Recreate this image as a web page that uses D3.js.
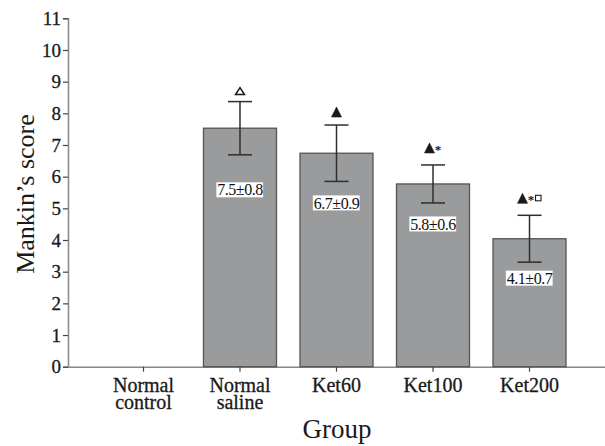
<!DOCTYPE html>
<html>
<head>
<meta charset="utf-8">
<script src="https://cdn.jsdelivr.net/npm/d3@7/dist/d3.min.js"></script>
<style>
  body { margin: 0; background: #fff; }
  svg { display: block; }
  svg text { font-family: "Liberation Serif", "Times New Roman", serif; }
</style>
</head>
<body>
<div id="chart"></div>
<script>
// groups and values
var groups = ["Normal control", "Normal saline", "Ket60", "Ket100", "Ket200"];
var groupLines = [["Normal", "control"], ["Normal", "saline"], ["Ket60"], ["Ket100"], ["Ket200"]];
var means = [0, 7.53, 6.74, 5.77, 4.04];
var errors = [0, 0.84, 0.89, 0.6, 0.74];
var valueLabels = ["", "7.5\u00b10.8", "6.7\u00b10.9", "5.8\u00b10.6", "4.1\u00b10.7"];
// significance marks: D = open triangle, T = filled triangle, * = asterisk, S = open square
var marks = ["", "D", "T", "T*", "T*S"];
var yTicks = [0, 1, 2, 3, 4, 5, 6, 7, 8, 9, 10, 11];

var width = 605, height = 446;
var plotLeft = 68, plotBase = 366.7, plotTop = 18.3;
var serif = "Liberation Serif, Times New Roman, serif";

var svg = d3.select("#chart").append("svg")
    .attr("width", width)
    .attr("height", height)
    .attr("font-family", serif);

var x = d3.scaleBand()
    .domain(groups)
    .range([plotLeft, width])
    .paddingInner(0.2435)
    .paddingOuter(0.404);

var y = d3.scaleLinear()
    .domain([0, 11])
    .range([plotBase, plotTop]);

// y axis
var yAxis = svg.append("g")
    .attr("transform", "translate(" + plotLeft + ",0)")
    .call(d3.axisLeft(y).tickValues(yTicks).tickSize(5).tickPadding(2).tickFormat(d3.format("d")));
yAxis.attr("font-family", serif).attr("font-size", 19);
yAxis.select(".domain").attr("stroke", "#8c8c8c").attr("stroke-width", 1.6);
yAxis.selectAll(".tick line").attr("stroke", "#444").attr("stroke-width", 1.2);
yAxis.selectAll(".tick text")
    .attr("fill", "#1a1a1a")
    .attr("stroke", "#1a1a1a")
    .attr("stroke-width", 0.3);

// x axis baseline + ticks (drawn under the bars)
var xAxis = svg.append("g")
    .attr("transform", "translate(0," + plotBase + ")")
    .call(d3.axisBottom(x).tickSize(5).tickSizeOuter(0).tickFormat(""));
xAxis.select(".domain").attr("stroke", "#888").attr("stroke-width", 1.4);
xAxis.selectAll(".tick line").attr("stroke", "#444").attr("stroke-width", 1.2);

// bars
svg.selectAll("rect.bar")
    .data(groups)
    .enter()
    .append("rect")
    .attr("class", "bar")
    .attr("x", function (d) { return x(d); })
    .attr("y", function (d, i) { return y(means[i]) - (means[i] ? 0 : 0.8); })
    .attr("width", x.bandwidth())
    .attr("height", function (d, i) { return y(0) - y(means[i]); })
    .attr("fill", "#9a9b9d")
    .attr("stroke", function (d, i) { return means[i] ? "#555" : "#444"; })
    .attr("stroke-width", 1.3);

// category labels
var cat = svg.selectAll("text.cat")
    .data(groups)
    .enter()
    .append("text")
    .attr("class", "cat")
    .attr("text-anchor", "middle")
    .attr("fill", "#1a1a1a")
    .attr("stroke", "#1a1a1a")
    .attr("stroke-width", 0.3)
    .attr("font-family", serif)
    .attr("font-size", 20);
cat.each(function (d, i) {
    var t = d3.select(this);
    groupLines[i].forEach(function (line, j) {
        t.append("tspan")
            .attr("x", x(d) + x.bandwidth() / 2)
            .attr("y", 391.5 + j * 17.8)
            .text(line);
    });
});

// error bars
var cx = function (i) { return x(groups[i]) + x.bandwidth() / 2; };
var err = svg.append("g").attr("stroke", "#2e2e2e").attr("stroke-width", 1.5);
groups.forEach(function (g, i) {
    if (!errors[i]) return;
    var hi = y(means[i] + errors[i]), lo = y(means[i] - errors[i]);
    err.append("line").attr("x1", cx(i)).attr("x2", cx(i)).attr("y1", hi).attr("y2", lo);
    err.append("line").attr("x1", cx(i) - 12).attr("x2", cx(i) + 12).attr("y1", hi).attr("y2", hi);
    err.append("line").attr("x1", cx(i) - 12).attr("x2", cx(i) + 12).attr("y1", lo).attr("y2", lo);
});

// value labels in white boxes, below the error bar
var labelGap = [0, 35, 21.5, 21, 16];
groups.forEach(function (g, i) {
    if (!valueLabels[i]) return;
    var cy = y(means[i] - errors[i]) + labelGap[i];
    var lab = svg.append("g");
    var txt = lab.append("text")
        .attr("x", cx(i))
        .attr("y", cy)
        .attr("dy", "0.35em")
        .attr("text-anchor", "middle")
        .attr("fill", "#111")
        .attr("font-family", serif)
        .attr("font-size", 16)
        .attr("letter-spacing", -0.5)
        .text(valueLabels[i]);
    var bb = txt.node().getBBox();
    lab.insert("rect", "text")
        .attr("x", bb.x - 1)
        .attr("y", cy - 7.5)
        .attr("width", bb.width + 1)
        .attr("height", 15)
        .attr("fill", "#fff");
});

// significance marks above the error bars
groups.forEach(function (g, i) {
    var m = marks[i];
    if (!m) return;
    var parts = m.split("");
    var w = { D: 9, T: 10, "*": 7, S: 7 };
    var total = d3.sum(parts, function (p) { return w[p]; });
    var capTop = y(means[i] + errors[i]);
    var isOpen = parts[0] === "D";
    var tb = capTop - (isOpen ? 7 : (parts.length > 1 ? 12 : 8));   // triangle bottom
    var th = isOpen ? 7 : 10;
    var xs = cx(i) - total / 2;
    var gm = svg.append("g");
    parts.forEach(function (p) {
        var c = xs + w[p] / 2;
        if (p === "D" || p === "T") {
            gm.append("path")
                .attr("d", "M" + (c - w[p] / 2) + "," + tb + "L" + (c + w[p] / 2) + "," + tb + "L" + c + "," + (tb - th) + "Z")
                .attr("fill", p === "T" ? "#1a1a1a" : "#fff")
                .attr("stroke", "#1a1a1a")
                .attr("stroke-width", p === "T" ? 0.6 : 1.5)
                .attr("stroke-linejoin", "miter");
        } else if (p === "*") {
            gm.append("text")
                .attr("x", c)
                .attr("y", tb + 1)
                .attr("text-anchor", "middle")
                .attr("fill", "#1a1a1a")
                .attr("font-family", "Liberation Sans, sans-serif")
                .attr("font-weight", "bold")
                .attr("font-size", 13)
                .text("*");
        } else if (p === "S") {
            gm.append("rect")
                .attr("x", c - 2.5)
                .attr("y", tb - th / 2 - 3)
                .attr("width", 5.5)
                .attr("height", 5.5)
                .attr("fill", "#fff")
                .attr("stroke", "#1a1a1a")
                .attr("stroke-width", 1.1);
        }
        xs += w[p];
    });
});

// axis titles
svg.append("text")
    .attr("transform", "translate(34,194) rotate(-90)")
    .attr("text-anchor", "middle")
    .attr("fill", "#1a1a1a")
    .attr("font-family", serif)
    .attr("font-size", 26)
    .text("Mankin\u2019s score");

svg.append("text")
    .attr("x", 337)
    .attr("y", 438)
    .attr("text-anchor", "middle")
    .attr("fill", "#1a1a1a")
    .attr("font-family", serif)
    .attr("font-size", 27)
    .text("Group");
</script>
</body>
</html>
